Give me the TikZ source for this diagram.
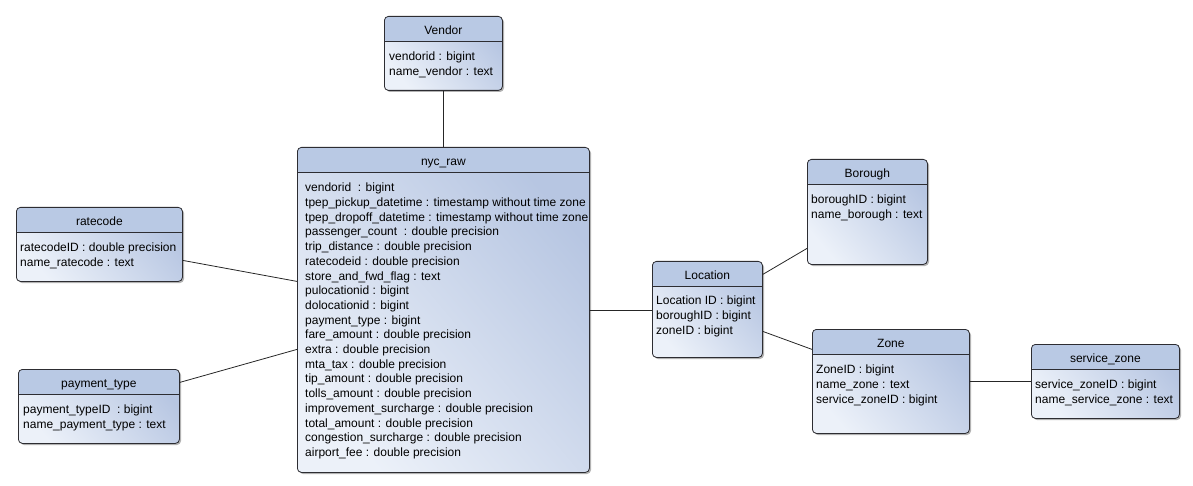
\documentclass[tikz,border=0pt]{standalone}
\usepackage{fontspec}
\setmainfont{Liberation Sans}
\usetikzlibrary{calc,shadows}
\definecolor{hdblue}{RGB}{185,201,228}
\definecolor{bdlight}{RGB}{236,241,249}
\definecolor{bddark}{RGB}{183,198,226}
\definecolor{edge}{RGB}{45,45,50}
\newlength{\tabhh}
\setlength{\tabhh}{25.5pt}
\tikzset{
  tab/.style  ={draw=edge,line width=0.8pt,rounded corners=4pt,
                top color=bddark,bottom color=bdlight,shading angle=-50,
                drop shadow={shadow xshift=1.6pt,shadow yshift=-1.6pt,
                             opacity=0.3,fill=black},
                anchor=north west,inner sep=0pt,
                path picture={
                  \fill[hdblue] (path picture bounding box.north west)
                    rectangle ([yshift=-\tabhh]path picture bounding box.north east);
                  \draw[edge,line width=0.9pt]
                    ([yshift=-\tabhh]path picture bounding box.north west)
                    -- ([yshift=-\tabhh]path picture bounding box.north east);}},
  ttl/.style  ={font=\fontsize{12}{14.7}\selectfont,anchor=base,inner sep=0pt},
  attr/.style ={font=\fontsize{12}{14.7}\selectfont,anchor=north west,
                align=left,inner sep=0pt},
  link/.style ={draw=black!85,line width=0.8pt}
}

\begin{document}
\begin{tikzpicture}[x=1pt,y=-1pt]
\useasboundingbox (0,0) rectangle (1193,486);

% tables
\node[tab,minimum width=118pt,minimum height=74pt]  (vendor) at (384,16)  {};
\node[tab,minimum width=292pt,minimum height=325pt] (nyc)    at (297,147) {};
\node[tab,minimum width=166pt,minimum height=74pt]  (rate)   at (16,207)  {};
\node[tab,minimum width=161pt,minimum height=74pt]  (pay)    at (18,369)  {};
\node[tab,minimum width=110pt,minimum height=96pt]  (loc)    at (652,261) {};
\node[tab,minimum width=120pt,minimum height=105pt] (bor)    at (807,159) {};
\node[tab,minimum width=157pt,minimum height=104pt] (zone)   at (812,329) {};
\node[tab,minimum width=148pt,minimum height=74pt]  (svc)    at (1031,344){};

% titles
\node[ttl] (vendor-t) at ([yshift=-18.5pt]vendor.north) {Vendor};
\node[ttl] (nyc-t)    at ([yshift=-18.5pt]nyc.north)    {nyc\_raw};
\node[ttl] (rate-t)   at ([yshift=-18.5pt]rate.north)   {ratecode};
\node[ttl] (pay-t)    at ([yshift=-18.5pt]pay.north)    {payment\_type};
\node[ttl] (loc-t)    at ([yshift=-18.5pt]loc.north)    {Location};
\node[ttl] (bor-t)    at ([yshift=-18.5pt]bor.north)    {Borough};
\node[ttl] (zone-t)   at ([yshift=-18.5pt]zone.north)   {Zone};
\node[ttl] (svc-t)    at ([yshift=-18.5pt]svc.north)    {service\_zone};

% attributes
\node[attr] (vendor-a) at ([xshift=5pt,yshift=-36pt]vendor.north west)
  {vendorid : bigint\\name\_vendor : text};
\node[attr] (nyc-a) at ([xshift=8pt,yshift=-36pt]nyc.north west)
  {vendorid~ : bigint\\
   tpep\_pickup\_datetime : timestamp without time zone\\
   tpep\_dropoff\_datetime : timestamp without time zone\\
   passenger\_count~ : double precision\\
   trip\_distance : double precision\\
   ratecodeid : double precision\\
   store\_and\_fwd\_flag : text\\
   pulocationid : bigint\\
   dolocationid : bigint\\
   payment\_type : bigint\\
   fare\_amount : double precision\\
   extra : double precision\\
   mta\_tax : double precision\\
   tip\_amount : double precision\\
   tolls\_amount : double precision\\
   improvement\_surcharge : double precision\\
   total\_amount : double precision\\
   congestion\_surcharge : double precision\\
   airport\_fee : double precision};
\node[attr] (rate-a) at ([xshift=4pt,yshift=-36pt]rate.north west)
  {ratecodeID : double precision\\name\_ratecode : text};
\node[attr] (pay-a) at ([xshift=5pt,yshift=-36pt]pay.north west)
  {payment\_typeID~ : bigint\\name\_payment\_type : text};
\node[attr] (loc-a) at ([xshift=4pt,yshift=-35pt]loc.north west)
  {Location ID : bigint\\boroughID : bigint\\zoneID : bigint};
\node[attr] (bor-a) at ([xshift=4pt,yshift=-36pt]bor.north west)
  {boroughID : bigint\\name\_borough : text};
\node[attr] (zone-a) at ([xshift=4pt,yshift=-36pt]zone.north west)
  {ZoneID : bigint\\name\_zone : text\\service\_zoneID : bigint};
\node[attr] (svc-a) at ([xshift=4pt,yshift=-36pt]svc.north west)
  {service\_zoneID : bigint\\name\_service\_zone : text};

% links
\draw[link] (vendor.south) -- (nyc.north);
\draw[link] ([yshift=-16pt]rate.east) -- ([yshift=28.5pt]nyc.west);
\draw[link] ([yshift=24pt]pay.east) -- ([yshift=-39.5pt]nyc.west);
\draw[link] (nyc.east) -- (nyc.east -| loc.west);
\draw[link] ([yshift=35pt]loc.east) -- ([yshift=-36.5pt]bor.west);
\draw[link] ([yshift=-22pt]loc.east) -- ([yshift=32pt]zone.west);
\draw[link] (zone.east) -- (zone.east -| svc.west);

\end{tikzpicture}
\end{document}
